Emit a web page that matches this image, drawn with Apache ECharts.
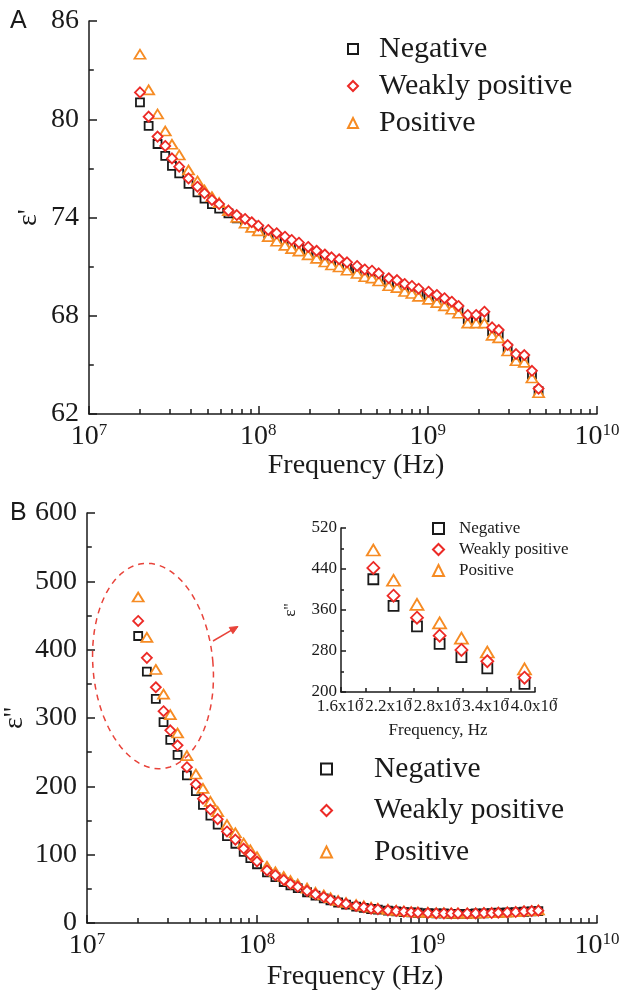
<!DOCTYPE html>
<html><head><meta charset="utf-8">
<script src="https://cdn.jsdelivr.net/npm/echarts@6/dist/echarts.min.js"></script>
<style>html,body{margin:0;padding:0;background:#fff}#c{width:622px;height:995px}</style>
</head><body><div id="c"></div>
<script>
// ---------- data ----------
const seriesNames = ['Negative', 'Weakly positive', 'Positive'];
const frequencyMHz = [20, 22.5, 25.4, 28.2, 30.9, 34.1, 38.7, 43.7, 48.1, 53.2, 58.7, 66.6, 74.6, 83.5, 91.4, 100, 114.5, 128.3, 143.6, 157.3, 173.7, 197, 220.8, 247, 270.6, 300, 334, 383, 425, 469, 514, 589, 659, 731, 807, 884, 1012, 1133, 1257, 1388, 1521, 1725, 1933, 2163, 2402, 2627, 2968, 3325, 3722, 4130, 4518];
const realNegative = [81.03,79.59,78.49,77.76,77.15,76.70,76.05,75.54,75.15,74.82,74.54,74.25,73.95,73.72,73.52,73.30,73.02,72.80,72.58,72.38,72.22,71.97,71.74,71.51,71.34,71.22,71.02,70.81,70.60,70.52,70.36,70.06,69.95,69.71,69.59,69.42,69.24,69.04,68.84,68.63,68.38,67.80,67.80,67.90,67.05,66.90,66.00,65.45,65.35,64.40,63.40];
const realWeak = [81.64,80.16,78.94,78.37,77.61,77.10,76.39,75.88,75.48,75.07,74.82,74.42,74.15,73.91,73.71,73.50,73.24,73.04,72.83,72.63,72.46,72.20,71.97,71.74,71.57,71.45,71.26,71.04,70.83,70.75,70.59,70.29,70.18,69.94,69.82,69.65,69.47,69.27,69.07,68.86,68.60,68.05,68.05,68.25,67.29,67.13,66.21,65.66,65.60,64.64,63.55];
const realPositive = [83.97,81.79,80.32,79.28,78.47,77.82,76.90,76.23,75.68,75.27,74.91,74.42,74.01,73.65,73.40,73.18,72.83,72.55,72.30,72.10,71.95,71.72,71.50,71.28,71.10,70.98,70.78,70.58,70.38,70.30,70.12,69.83,69.72,69.48,69.36,69.18,69.00,68.80,68.60,68.40,68.15,67.55,67.55,67.55,66.80,66.65,65.85,65.25,65.15,64.20,63.30];
const imagNegative = [420,368,328,294,268,246,216,193,173,157,144,127,116,104,95,86,74,67,60,55,51,45,40,36,33,30,27,24,22,20.5,19.5,18,17,16,15.5,15,14.5,14,14,13.5,13.5,13.5,14,14,14.5,15,15.5,16,16.5,17,17.5];
const imagWeak = [442,388,345,310,282,260,228,203,182,166,152,134,122,109,100,90,77,70,63,57,53,47,42,38,34,31,28,25,23,21,20,18.5,17.5,16.5,15.5,15,14.5,14,14,14,14,14,14,14.5,14.5,15,15.5,16,17,17.5,18];
const imagPositive = [477,418,371,335,305,278,245,218,197,178,163,144,132,117,107,97,83,75,68,62,57,51,45,41,37,33,30,27,25,23,21.5,20,18.5,17.5,16.5,16,15.5,15,15,14.5,14.5,14.5,14.5,15,15,15.5,16,16.5,17.5,18,19];
const insetPointCount = 7;
const xMajorExponents = [7, 8, 9, 10];
const topYTicks = [62, 68, 74, 80, 86];
const bottomYTicks = [0, 100, 200, 300, 400, 500, 600];
const insetYTicks = [200, 280, 360, 440, 520];
const insetXTicks = [1.6e7, 2.2e7, 2.8e7, 3.4e7, 4.0e7];

// ---------- styling ----------
const SERIF = "'Liberation Serif','Times New Roman',serif";
const INK = '#1a1a1a';
const COLORS = {'Negative': '#1a1a1a', 'Weakly positive': '#ec2a26', 'Positive': '#f68b23'};
const SYMBOLS = {'Negative': 'rect', 'Weakly positive': 'diamond', 'Positive': 'triangle'};
const Z = {'Negative': 2, 'Positive': 3, 'Weakly positive': 4};

const minorTickValues = [];
for (let e = 7; e < 10; e++) for (let k = 2; k <= 9; k++) minorTickValues.push(k * Math.pow(10, e));

const axisLineStyle = {color: INK, width: 1.5};

function logX(gi, nameGap) {
  return {
    type: 'log', logBase: 10, gridIndex: gi, min: Math.pow(10, xMajorExponents[0]), max: Math.pow(10, xMajorExponents[xMajorExponents.length - 1]),
    position: 'bottom',
    axisLine: {show: true, onZero: false, lineStyle: axisLineStyle},
    axisTick: {show: true, inside: true, length: 8, lineStyle: axisLineStyle},
    splitLine: {show: false},
    axisLabel: {margin: 8, formatter: v => '{b|10}{s|' + Math.round(Math.log10(v)) + '}',
      rich: {
        b: {fontFamily: SERIF, fontSize: 28, color: INK, lineHeight: 30},
        s: {fontFamily: SERIF, fontSize: 17, color: INK, lineHeight: 14, verticalAlign: 'top'}
      }},
    name: 'Frequency (Hz)', nameLocation: 'middle', nameGap: nameGap,
    nameTextStyle: {fontFamily: SERIF, fontSize: 28, color: INK, padding: [0, 0, 0, 26]}
  };
}
function minorX(gi) {
  return {
    type: 'log', logBase: 10, gridIndex: gi, min: 1e7, max: 1e10, position: 'bottom',
    axisLine: {show: false}, axisLabel: {show: false}, splitLine: {show: false},
    axisTick: {show: true, inside: true, length: 5, customValues: minorTickValues, lineStyle: axisLineStyle}
  };
}
function valY(gi, ticks, name, nameGap, fontSize, tickLen, margin) {
  return {
    type: 'value', gridIndex: gi, min: ticks[0], max: ticks[ticks.length - 1], interval: ticks[1] - ticks[0],
    axisLine: {show: true, onZero: false, lineStyle: axisLineStyle},
    axisTick: {show: true, inside: true, length: tickLen, lineStyle: axisLineStyle},
    minorTick: {show: true, splitNumber: 2, length: tickLen * 0.6, lineStyle: axisLineStyle},
    splitLine: {show: false},
    axisLabel: {fontFamily: SERIF, fontSize: fontSize, color: INK, margin: margin},
    name: name, nameLocation: 'middle', nameGap: nameGap, nameRotate: 90, nameMoveOverlap: false,
    nameTextStyle: {fontFamily: SERIF, fontSize: fontSize, color: INK}
  };
}

const pairs = (arr, n) => arr.slice(0, n || arr.length).map((v, i) => [frequencyMHz[i] * 1e6, v]);

function scatter(name, values, xi, yi, size, n) {
  return {
    type: 'scatter', name: name, xAxisIndex: xi, yAxisIndex: yi, z: Z[name],
    symbol: SYMBOLS[name], symbolSize: size[name],
    itemStyle: {color: '#fff', borderColor: COLORS[name], borderWidth: 1.8, opacity: 1},
    emphasis: {disabled: true},
    data: pairs(values, n)
  };
}
const mainSizes = {'Negative': 8, 'Weakly positive': [10, 10], 'Positive': [11, 9]};
const insetSizes = {'Negative': 10, 'Weakly positive': [12, 12], 'Positive': [13, 11]};

const legendBase = (left, top, gap, fs, icon, pad) => ({
  data: seriesNames, orient: 'vertical', left: left, top: top, itemGap: gap, padding: 0,
  itemWidth: icon, itemHeight: icon, selectedMode: false,
  textStyle: {fontFamily: SERIF, fontSize: fs, color: INK, padding: [0, 0, 0, pad]}
});

// dashed ellipse annotation and arrow
const ellPts = [];
const ecx = 153, ecy = 666, erx = 60, ery = 103, ea = -0.09;
for (let i = 0; i < 96; i++) {
  const t = i / 96 * Math.PI * 2, px = erx * Math.cos(t), py = ery * Math.sin(t);
  ellPts.push([ecx + px * Math.cos(ea) - py * Math.sin(ea), ecy + px * Math.sin(ea) + py * Math.cos(ea)]);
}
const a0 = [213, 641], a1 = [238, 626.5];
const dx = a1[0] - a0[0], dy = a1[1] - a0[1], dl = Math.hypot(dx, dy), ux = dx / dl, uy = dy / dl;
const headL = 8, headW = 3.6;
const head = [a1, [a1[0] - headL * ux - headW * uy, a1[1] - headL * uy + headW * ux], [a1[0] - headL * ux + headW * uy, a1[1] - headL * uy - headW * ux]];
const RED = '#e8433a';

const option = {
  animation: false,
  backgroundColor: '#fff',
  grid: [
    {left: 89, top: 21, width: 508, height: 393, containLabel: false, outerBoundsMode: 'none'},
    {left: 87, top: 513, width: 510, height: 410, containLabel: false, outerBoundsMode: 'none'},
    {left: 341, top: 528, width: 194, height: 164, containLabel: false, outerBoundsMode: 'none'}
  ],
  xAxis: [
    logX(0, 36), logX(1, 40), minorX(0), minorX(1),
    {
      type: 'value', gridIndex: 2, min: insetXTicks[0], max: insetXTicks[insetXTicks.length - 1], interval: insetXTicks[1] - insetXTicks[0],
      axisLine: {show: true, onZero: false, lineStyle: axisLineStyle},
      axisTick: {show: true, inside: true, length: 5, lineStyle: axisLineStyle},
      minorTick: {show: true, splitNumber: 2, length: 4, lineStyle: axisLineStyle},
      splitLine: {show: false},
      axisLabel: {margin: 5, showMinLabel: true, showMaxLabel: true, hideOverlap: false,
        formatter: v => '{b|' + (v / 1e7).toFixed(1) + 'x10}{s|7}',
        rich: {
          b: {fontFamily: SERIF, fontSize: 17, color: INK, lineHeight: 19, width: 40, align: 'right'},
          s: {fontFamily: SERIF, fontSize: 11, color: INK, lineHeight: 10, verticalAlign: 'top', width: 2, align: 'left'}
        }},
      name: 'Frequency, Hz', nameLocation: 'middle', nameGap: 30,
      nameTextStyle: {fontFamily: SERIF, fontSize: 17, color: INK}
    }
  ],
  yAxis: [
    valY(0, topYTicks, "ε'", 46, 28, 8, 10),
    valY(1, bottomYTicks, "ε''", 58, 28, 8, 10),
    valY(2, insetYTicks, "ε''", 42, 17, 5, 4)
  ],
  legend: [
    legendBase(347, 34, 7, 30, 10, 16),
    legendBase(320, 754, 11.5, 29.5, 11, 37),
    legendBase(432, 520, 4, 17, 11, 10)
  ],
  series: [
    scatter('Negative', realNegative, 0, 0, mainSizes),
    scatter('Weakly positive', realWeak, 0, 0, mainSizes),
    scatter('Positive', realPositive, 0, 0, mainSizes),
    scatter('Negative', imagNegative, 1, 1, mainSizes),
    scatter('Weakly positive', imagWeak, 1, 1, mainSizes),
    scatter('Positive', imagPositive, 1, 1, mainSizes),
    scatter('Negative', imagNegative, 4, 2, insetSizes, insetPointCount),
    scatter('Weakly positive', imagWeak, 4, 2, insetSizes, insetPointCount),
    scatter('Positive', imagPositive, 4, 2, insetSizes, insetPointCount)
  ],
  graphic: [
    {type: 'text', left: 10, top: 9, style: {text: 'A', font: "25px 'Liberation Sans', Arial, sans-serif", fill: INK}},
    {type: 'text', left: 10, top: 501, style: {text: 'B', font: "25px 'Liberation Sans', Arial, sans-serif", fill: INK}},
    {type: 'polygon', shape: {points: ellPts}, style: {fill: 'none', stroke: RED, lineWidth: 1.5, lineDash: [6, 5]}, z: 10},
    {type: 'line', shape: {x1: a0[0], y1: a0[1], x2: a1[0] - headL * ux * 0.8, y2: a1[1] - headL * uy * 0.8}, style: {stroke: RED, lineWidth: 1.5}, z: 10},
    {type: 'polygon', shape: {points: head}, style: {fill: RED, stroke: RED, lineWidth: 1}, z: 10}
  ]
};
const chart = echarts.init(document.getElementById('c'), null, {renderer: 'canvas'});
chart.setOption(option);
</script>
</body></html>
